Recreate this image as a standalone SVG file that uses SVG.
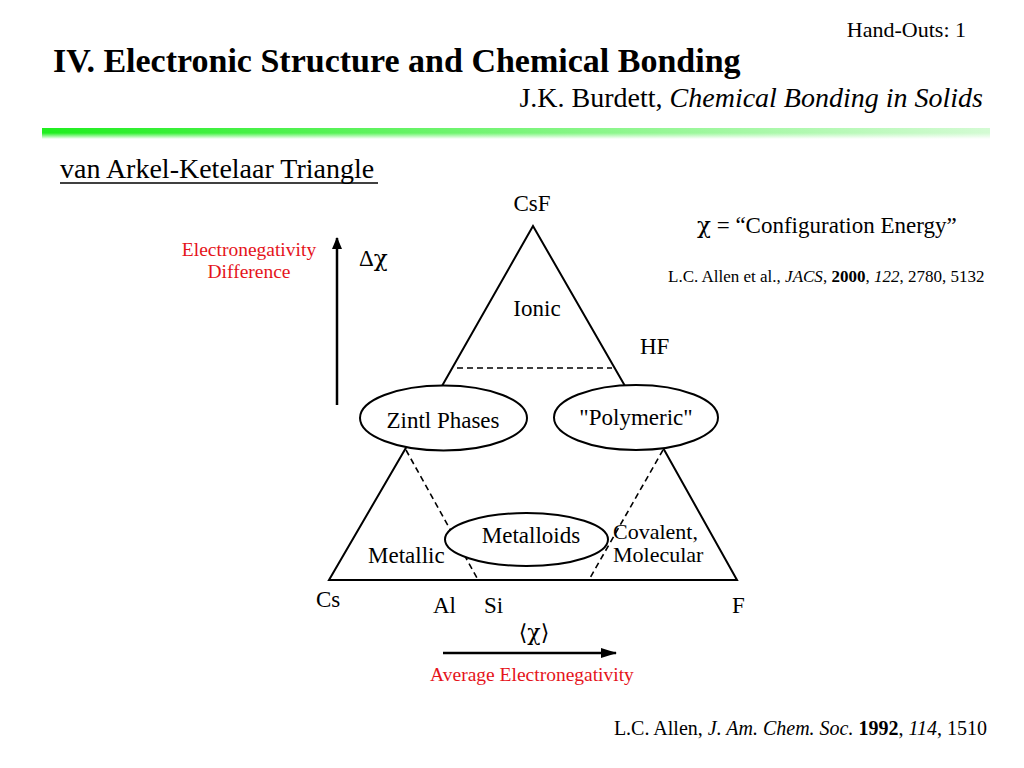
<svg xmlns="http://www.w3.org/2000/svg" width="1024" height="768" viewBox="0 0 1024 768">
<style>
text{font-family:"Liberation Serif","Times New Roman","DejaVu Serif",serif;fill:#000}
.gr{font-family:"DejaVu Serif","Liberation Serif",serif}
.red{fill:#e5141b}
.lab{font-size:23px}
.edge{stroke:#000;stroke-width:2;fill:none}
.dash{stroke:#000;stroke-width:1.6;fill:none;stroke-dasharray:6 4}
.node{fill:#fff;stroke:#000;stroke-width:2}
.arrow{stroke:#000;stroke-width:2.5;fill:none}
</style>
<defs>
<linearGradient id="gh" x1="0" y1="0" x2="1" y2="0">
<stop offset="0" stop-color="#1fee1f"/>
<stop offset="0.5" stop-color="#7af57a"/>
<stop offset="1" stop-color="#d4fbd4"/>
</linearGradient>
<linearGradient id="gv" x1="0" y1="0" x2="0" y2="1">
<stop offset="0" stop-color="#fff" stop-opacity="0"/>
<stop offset="0.45" stop-color="#fff" stop-opacity="0"/>
<stop offset="1" stop-color="#fff" stop-opacity="1"/>
</linearGradient>
<marker id="ah" viewBox="0 0 12 10" refX="11" refY="5" markerWidth="12" markerHeight="10" markerUnits="userSpaceOnUse" orient="auto">
<path d="M0,0 L12,5 L0,10 Z" fill="#000"/>
</marker>
<marker id="ahb" viewBox="0 0 16 10" refX="15" refY="5" markerWidth="16" markerHeight="10" markerUnits="userSpaceOnUse" orient="auto">
<path d="M0,0 L16,5 L0,10 Z" fill="#000"/>
</marker>
</defs>
<rect width="1024" height="768" fill="#fff"/>

<g id="header">
<text x="966" y="37" font-size="22" text-anchor="end">Hand-Outs: 1</text>
<text x="53" y="72" font-size="34" font-weight="bold">IV. Electronic Structure and Chemical Bonding</text>
<text x="983" y="107" font-size="28" text-anchor="end">J.K. Burdett, <tspan font-style="italic">Chemical Bonding in Solids</tspan></text>
<rect x="42" y="128" width="948" height="11" fill="url(#gh)"/>
<rect x="42" y="128" width="948" height="11" fill="url(#gv)"/>
<text x="60" y="178" font-size="28">van Arkel-Ketelaar Triangle</text>
<line x1="60" y1="183" x2="378" y2="183" stroke="#000" stroke-width="1.3"/>
</g>

<g id="notes">
<text x="697" y="233" font-size="23"><tspan class="gr">χ</tspan> = “Configuration Energy”</text>
<text x="668" y="282" font-size="17">L.C. Allen et al., <tspan font-style="italic">JACS</tspan>, <tspan font-weight="bold">2000</tspan>, <tspan font-style="italic">122</tspan>, 2780, 5132</text>
<text x="987" y="735" font-size="20" text-anchor="end">L.C. Allen, <tspan font-style="italic">J. Am. Chem. Soc.</tspan> <tspan font-weight="bold">1992</tspan>, <tspan font-style="italic">114</tspan>, 1510</text>
</g>

<g id="connectors">
<polyline class="edge" points="442,386 533,226 625,386"/>
<line class="dash" x1="457" y1="368" x2="612" y2="368"/>
<polyline class="edge" points="407,446 329,580 737,580 662,446"/>
<line class="dash" x1="406" y1="450" x2="477" y2="578"/>
<line class="dash" x1="663" y1="450" x2="590" y2="578"/>
<line class="arrow" x1="337" y1="405" x2="337" y2="238" marker-end="url(#ah)"/>
<line class="arrow" x1="443" y1="653" x2="616" y2="653" marker-end="url(#ahb)"/>
</g>

<g id="axis-y">
<text class="red" x="249" y="256" font-size="19.5" text-anchor="middle">Electronegativity</text>
<text class="red" x="249" y="278" font-size="19.5" text-anchor="middle">Difference</text>
<text x="359" y="266" font-size="23">Δ<tspan class="gr">χ</tspan></text>
</g>

<g id="axis-x">
<text class="gr" x="534" y="640" font-size="22" text-anchor="middle">⟨χ⟩</text>
<text class="red" x="532" y="681" font-size="19.5" text-anchor="middle">Average Electronegativity</text>
</g>

<g id="vertex-CsF"><text class="lab" x="532" y="211" text-anchor="middle">CsF</text></g>
<g id="region-ionic"><text class="lab" x="537" y="316" text-anchor="middle">Ionic</text></g>
<g id="label-HF"><text class="lab" x="640" y="354">HF</text></g>

<g id="node-zintl">
<ellipse class="node" cx="443.5" cy="418" rx="83.5" ry="32.5"/>
<text class="lab" x="443" y="428" text-anchor="middle">Zintl Phases</text>
</g>
<g id="node-polymeric">
<ellipse class="node" cx="636" cy="417.5" rx="82" ry="32.5"/>
<text class="lab" x="636" y="425" text-anchor="middle">"Polymeric"</text>
</g>
<g id="node-metalloids">
<ellipse class="node" cx="526.5" cy="539.5" rx="81.5" ry="26.5"/>
<text class="lab" x="531" y="543" text-anchor="middle">Metalloids</text>
</g>

<g id="region-metallic"><text class="lab" x="368" y="563">Metallic</text></g>
<g id="region-covalent">
<text x="613" y="539" font-size="22">Covalent,</text>
<text x="613" y="562" font-size="22">Molecular</text>
</g>

<g id="vertex-Cs"><text class="lab" x="316" y="607">Cs</text></g>
<g id="label-Al"><text class="lab" x="433" y="613">Al</text></g>
<g id="label-Si"><text class="lab" x="484" y="613">Si</text></g>
<g id="vertex-F"><text class="lab" x="732" y="613">F</text></g>
</svg>
